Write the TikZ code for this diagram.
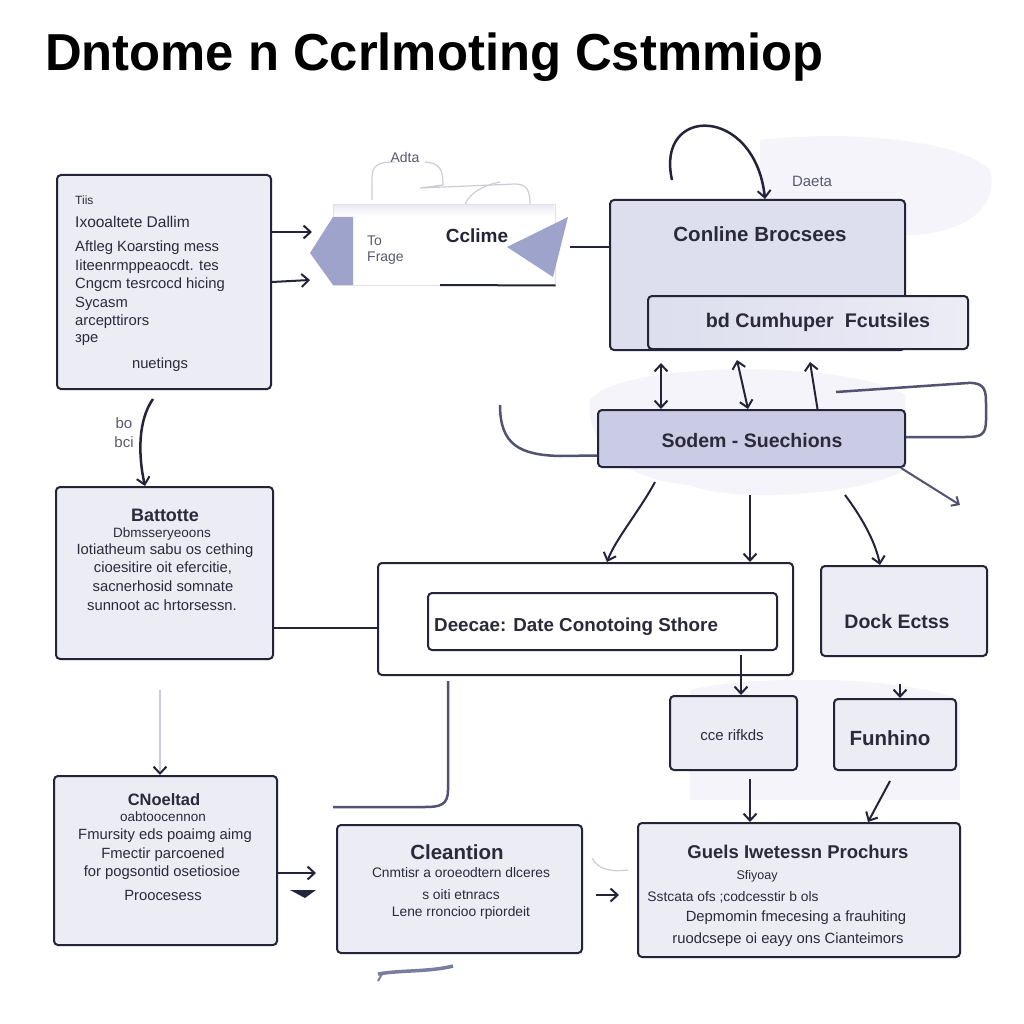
\documentclass[tikz,border=0pt]{standalone}
\usepackage{fontspec}
\setmainfont{Liberation Sans}
\usetikzlibrary{arrows.meta}
\definecolor{ink}{RGB}{36,36,56}
\definecolor{boxfill}{RGB}{236,236,245}
\definecolor{midfill}{RGB}{221,222,238}
\definecolor{sodfill}{RGB}{202,204,229}
\definecolor{tri}{RGB}{158,163,204}
\definecolor{wash}{RGB}{244,244,250}
\definecolor{faint}{RGB}{205,205,215}
\definecolor{txt}{RGB}{42,42,58}
\definecolor{soft}{RGB}{90,90,110}
\definecolor{bracket}{RGB}{82,82,115}
\tikzset{
  box/.style={draw=ink, line width=2pt, rounded corners=4pt, fill=boxfill, inner sep=0pt},
  conn/.style={draw=ink, line width=2pt, -{Straight Barb[length=7pt,width=13pt,line width=2pt]}},
  dconn/.style={draw=ink, line width=2pt, {Straight Barb[length=7pt,width=13pt,line width=2pt]}-{Straight Barb[length=7pt,width=13pt,line width=2pt]}},
  plainline/.style={draw=ink, line width=2pt},
  lbl/.style={text=txt, inner sep=0pt, font=\fontsize{14.8}{17}\selectfont},
  head/.style={text=txt, inner sep=0pt, font=\fontsize{20.5}{24}\bfseries},
}
\begin{document}
\begin{tikzpicture}[x=1pt,y=-1pt]
\useasboundingbox[fill=white] (0,0) rectangle (1024,1024);

% soft washes
\fill[wash] (760,140) .. controls (850,130) and (960,140) .. (990,170) .. controls (1000,210) and (960,235) .. (905,235) -- (760,200) -- cycle;
\fill[wash] (590,400) .. controls (620,360) and (850,360) .. (905,395) -- (905,470) .. controls (850,500) and (720,500) .. (690,485) .. controls (620,480) and (585,440) .. (590,400) -- cycle;
\fill[wash] (690,690) .. controls (750,675) and (900,675) .. (960,700) -- (960,800) -- (690,800) -- cycle;

% title
\node[anchor=west, inner sep=0pt, text=black, font=\fontsize{52}{56}\bfseries] (title) at (45,57) {\scalebox{0.976}[1]{Dntome n Ccrlmoting Cstmmiop}};

% ---- box 1
\node[box, minimum width=214pt, minimum height=214pt] (b1) at (164,282) {};
\node[lbl, anchor=west, font=\fontsize{12}{14}\selectfont] (b1t0) at (75,200) {Tiis};
\node[lbl, anchor=west, font=\fontsize{15.5}{18}\selectfont] (b1t1) at (75,222) {Ixooaltete Dallim};
\node[lbl, anchor=west] (b1t2) at (75,248) {Aftleg Koarsting mess};
\node[lbl, anchor=west] (b1t3) at (75,267) {Iiteenrmppeaocdt. tes};
\node[lbl, anchor=west] (b1t4) at (75,285) {Cngcm tesrcocd hicing};
\node[lbl, anchor=west] (b1t5) at (75,304) {Sycasm};
\node[lbl, anchor=west] (b1t6) at (75,322) {arcepttirors};
\node[lbl, anchor=west] (b1t7) at (75,340) {зpe};
\node[lbl] (b1t8) at (160,365) {nuetings};

% ---- banner
\draw[faint, line width=1.2pt] (372,200) -- (372,178) .. controls (372,165) and (378,162) .. (395,162);
\draw[faint, line width=1.2pt] (425,162) .. controls (440,163) and (443,170) .. (443,185) -- (420,188) -- (515,184) .. controls (528,184) and (530,192) .. (530,205);
\draw[faint, line width=1.2pt] (465,205) .. controls (470,190) and (490,184) .. (500,182);
\node[text=soft, inner sep=0pt, font=\fontsize{14}{16}\selectfont] (adta) at (405,157) {Adta};
\node[fill=white, draw=faint!60!white, line width=1pt, minimum width=222pt, minimum height=80pt, inner sep=0pt] (banner) at (444,245) {};
\fill[top color=boxfill, bottom color=white] (334,206) rectangle (554,216);
\draw[plainline] (440,285) -- (banner.south east);
\fill[tri] (333,217) -- (353,217) -- (353,285) -- (333,285) -- (310,253) -- cycle;
\fill[tri] (507,247) -- (568,217) -- (553,277) -- cycle;
\node[text=soft, inner sep=0pt, anchor=west, font=\fontsize{14}{16}\selectfont] (to) at (367,241) {To};
\node[text=soft, inner sep=0pt, anchor=west, font=\fontsize{14}{16}\selectfont] (frage) at (367,258) {Frage};
\node[text=ink, inner sep=0pt, font=\fontsize{19}{22}\bfseries] (cclime) at (477,236) {Cclime};
\coordinate (bt) at (312,232);
\coordinate (bt2) at (310,280);
\draw[conn] ([yshift=50pt]b1.east) -- (bt);
\draw[conn] (b1.east) -- (bt2);

% ---- big box
\node[box, fill=midfill, minimum width=295pt, minimum height=150pt] (big) at (757.5,275) {};
\node[head] (bigt) at (760,234) {Conline Brocsees};
\node[box, draw=ink, minimum width=320pt, minimum height=53pt, left color=midfill, right color=boxfill] (inner) at (808,322.5) {};
\node[head, font=\fontsize{19.7}{24}\bfseries] (innert) at (818,322) {bd Cumhuper\ \ Fcutsiles};
\coordinate (bannerR) at (570,247);
\draw[plainline] (bannerR) -- ([yshift=28pt]big.west);

\coordinate (loopS) at (672,180);
\draw[conn, line width=2.5pt] (loopS) .. controls (655,105) and (755,105) .. ([xshift=7.5pt]big.north);
\node[text=soft, inner sep=0pt, font=\fontsize{15}{18}\selectfont] (daeta) at (812,181) {Daeta};

% ---- Sodem box
\node[box, fill=sodfill, minimum width=307pt, minimum height=57pt] (sod) at (751.5,438.5) {};
\node[head, font=\fontsize{19.5}{24}\bfseries] (sodt) at (752,441) {Sodem - Suechions};
\coordinate (u1) at (661,363);
\coordinate (u2) at (737,360);
\coordinate (u3) at (810,362);
\draw[dconn] (u1) -- (sod.north -| u1);
\draw[dconn] (u2) -- ([xshift=-3.5pt]sod.north);
\draw[conn] ([xshift=66pt]sod.north) -- (u3);
\coordinate (rb) at (836,392);
\draw[bracket, line width=2.5pt] (rb) -- (968,383) .. controls (986,382) and (986,392) .. (986,405) -- (986,420) .. controls (986,436) and (980,437) .. (965,437) -- ([yshift=1.5pt]sod.east);
\coordinate (lb) at (500,405);
\draw[bracket, line width=2.5pt] (lb) .. controls (500,445) and (520,455) .. (560,456) -- ([yshift=-17pt]sod.west);

% ---- Deecae
\node[box, fill=white, minimum width=415pt, minimum height=112pt] (dec) at (585.5,619) {};
\node[box, fill=white, minimum width=349pt, minimum height=57pt] (decin) at (602.5,621.5) {};
\node[head, anchor=west, font=\fontsize{18.8}{22}\bfseries] (dect) at (434,627) {Deecae: Date Conotoing Sthore};

\coordinate (s1) at (655,482);
\coordinate (s2) at (750,495);
\coordinate (s3) at (845,495);
\coordinate (s4) at (960,505);
\draw[conn] (s1) .. controls (640,510) and (615,540) .. ([xshift=21.5pt]dec.north);
\draw[conn] (s2) -- ([xshift=164.5pt]dec.north);

% ---- Dock
\node[box, minimum width=166pt, minimum height=90pt] (dock) at (904,611) {};
\node[head, font=\fontsize{19.5}{24}\bfseries] (dockt) at (897,622) {Dock Ectss};
\draw[conn] (s3) .. controls (860,515) and (875,540) .. ([xshift=-24pt]dock.north);
\draw[draw=bracket, line width=2pt, -{Straight Barb[length=6pt,width=11pt,line width=2pt]}] ([xshift=-5pt]sod.south east) -- (s4);

% ---- cce & Funhino
\node[box, minimum width=127pt, minimum height=74pt] (cce) at (733.5,733) {};
\node[lbl, font=\fontsize{15}{18}\selectfont] (ccet) at (732,735) {cce rifkds};
\draw[conn] ([xshift=138.5pt,yshift=-4pt]decin.south) -- ([xshift=7.5pt]cce.north);
\node[box, minimum width=122pt, minimum height=71pt] (fun) at (895,734.5) {};
\node[head, font=\fontsize{20.5}{24}\bfseries] (funt) at (890,738) {Funhino};
\coordinate (fa) at (900,684);
\draw[conn] (fa) -- ([xshift=5pt]fun.north);

% ---- Battotte
\node[box, minimum width=217pt, minimum height=172pt] (bat) at (164.5,573) {};
\node[head, font=\fontsize{18}{24}\bfseries] (batt) at (165,515) {Battotte};
\node[lbl, font=\fontsize{13.5}{16}\selectfont] (bat1) at (162,534) {Dbmsseryeoons};
\node[lbl] (bat2) at (165,551) {Iotiatheum sabu os cething};
\node[lbl] (bat3) at (163,568) {cioesitire oit efercitie,};
\node[lbl] (bat4) at (163,586) {sacnerhosid somnate};
\node[lbl] (bat5) at (162,605) {sunnoot ac hrtorsessn.};
\draw[plainline] ([yshift=-55pt]bat.east) -- ([yshift=-9pt]dec.west);
\draw[conn, line width=2.5pt] ([xshift=-11pt,yshift=-9pt]b1.south) .. controls (138,420) and (138,455) .. ([xshift=-19.5pt]bat.north);
\node[text=soft, inner sep=0pt, font=\fontsize{15}{18}\selectfont] (bo) at (124,423) {bo};
\node[text=soft, inner sep=0pt, font=\fontsize{15}{18}\selectfont] (bci) at (124,442) {bci};

% ---- CNoeltad
\node[box, minimum width=223pt, minimum height=169pt] (cn) at (165.5,860.5) {};
\node[head, font=\fontsize{16.5}{24}\bfseries] (cnt) at (164,800) {CNoeltad};
\node[lbl, font=\fontsize{13.5}{16}\selectfont] (cn1) at (163,817) {oabtoocennon};
\node[lbl] (cn2) at (165,836) {Fmursity eds poaimg aimg};
\node[lbl] (cn3) at (163,855) {Fmectir parcoened};
\node[lbl] (cn4) at (162,873) {for pogsontid osetiosioe};
\node[lbl] (cn5) at (163,895) {Proocesess};
\coordinate (cnin) at (160,690);
\draw[draw=faint, line width=1.5pt, -{Straight Barb[length=7pt,width=13pt,line width=2pt,color=ink]}] (cnin) -- ([xshift=-5.5pt]cn.north);
\coordinate (ce1) at (316,873);
\draw[conn] ([yshift=-12.5pt]cn.east) -- (ce1);
\fill[ink] (290,890) -- (316,890) -- (305,898) -- cycle;

% ---- Cleantion
\node[box, minimum width=245pt, minimum height=128pt] (cl) at (459.5,889) {};
\node[head] (clt) at (457,852) {Cleantion};
\node[lbl, font=\fontsize{13.8}{16}\selectfont] (cl1) at (461,873) {Cnmtisr a oroeodtern dlceres};
\node[lbl, font=\fontsize{13.8}{16}\selectfont] (cl2) at (461,895) {s oiti etnracs};
\node[lbl, font=\fontsize{13.8}{16}\selectfont] (cl3) at (461,913) {Lene rroncioo rpiordeit};
\coordinate (clL) at (333,807);
\draw[bracket, line width=2.5pt] ([xshift=-137.5pt,yshift=-5pt]dec.south) -- (448,790) .. controls (448,805) and (440,807) .. (425,807) -- (clL);
\draw[tri!70!ink, line width=3.5pt] (378,974) .. controls (400,970) and (430,972) .. (453,966);
\draw[tri!70!ink, line width=2pt] (382,974) -- (378,981);

% ---- Guels
\node[box, minimum width=322pt, minimum height=134pt] (gu) at (799,890) {};
\node[head, font=\fontsize{18.5}{24}\bfseries] (gut) at (798,852) {Guels Iwetessn Prochurs};
\node[lbl, font=\fontsize{12.5}{15}\selectfont] (gu1) at (757,876) {Sfiyoay};
\node[lbl, font=\fontsize{13.8}{16}\selectfont] (gu2) at (733,897) {Sstcata ofs ;codcesstir b ols};
\node[lbl] (gu3) at (796,918) {Depmomin fmecesing a frauhiting};
\node[lbl] (gu4) at (788,940) {ruodcsepe oi eayy ons Cianteimors};
\draw[conn] ([xshift=16.5pt,yshift=-8pt]cce.south) -- ([xshift=-49pt]gu.north);
\draw[conn] ([xshift=-5pt,yshift=-10pt]fun.south) -- ([xshift=69pt]gu.north);
\coordinate (ga) at (596,895);
\draw[conn, line width=2.5pt] (ga) -- ([xshift=-18pt,yshift=-5pt]gu.west);
\draw[faint, line width=1.2pt] (592,858) .. controls (598,870) and (612,872) .. (628,870);
\end{tikzpicture}
\end{document}
